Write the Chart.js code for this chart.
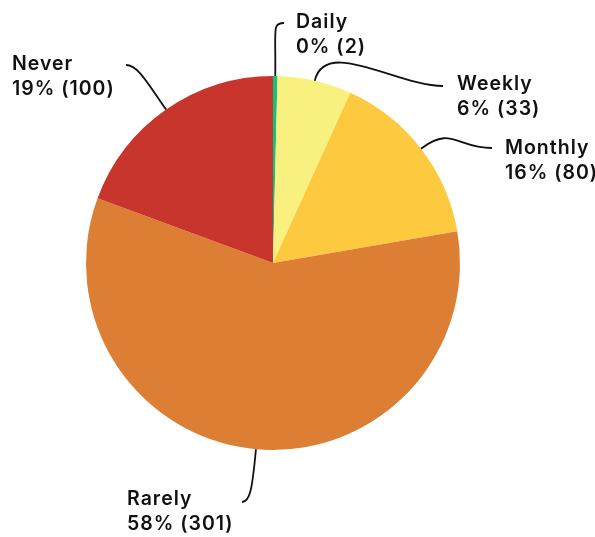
<!DOCTYPE html>
<html>
<head>
<meta charset="utf-8">
<script src="https://cdn.jsdelivr.net/npm/chart.js@4"></script>
<style>
    body { margin: 0; background: #fff; }
    #wrap { width: 595px; height: 537px; }
</style>
</head>
<body>
<div id="wrap"><canvas id="myChart" width="595" height="537"></canvas></div>
<script>
// data
const categories = ['Daily', 'Weekly', 'Monthly', 'Rarely', 'Never'];
const counts = [2, 33, 80, 301, 100];
const colors = ['#14c17a', '#f8f17f', '#fdc93f', '#dd7e35', '#c8352c'];

// label placement: text anchor, line end, control lengths
const labelLayout = [
    { x: 296, y: 22, align: 'left', endX: 284, endY: 23, out: 48, inn: 12 },
    { x: 457, y: 84, align: 'left', endX: 443, endY: 86, out: 45, inn: 45 },
    { x: 505, y: 148, align: 'left', endX: 492, endY: 148, out: 38, inn: 35 },
    { x: 127, y: 499, align: 'left', endX: 242, endY: 502, out: 40, inn: 8 },
    { x: 12, y: 64, align: 'left', endX: 126, endY: 65, out: 32, inn: 12 }
];

const total = counts.reduce((a, b) => a + b, 0);

const leaderLabels = {
    id: 'leaderLabels',
    afterDraw(chart) {
        const ctx = chart.ctx;
        const arcs = chart.getDatasetMeta(0).data;
        ctx.save();
        arcs.forEach((arc, i) => {
            const p = arc.getProps(['x', 'y', 'startAngle', 'endAngle', 'outerRadius'], true);
            const mid = (p.startAngle + p.endAngle) / 2;
            const dx = Math.cos(mid), dy = Math.sin(mid);
            const sx = p.x + dx * p.outerRadius;
            const sy = p.y + dy * p.outerRadius;
            const lay = labelLayout[i];
            const dir = lay.endX > sx ? -1 : 1;

            //line
            ctx.beginPath();
            ctx.moveTo(sx, sy);
            ctx.bezierCurveTo(sx + dx * lay.out, sy + dy * lay.out,
                lay.endX + dir * lay.inn, lay.endY, lay.endX, lay.endY);
            ctx.strokeStyle = '#111';
            ctx.lineWidth = 1.8;
            ctx.stroke();

            //text
            const pct = Math.round(counts[i] / total * 100);
            ctx.fillStyle = '#111';
            ctx.font = '600 19.5px Inter';
            ctx.letterSpacing = '1px';
            ctx.textAlign = lay.align;
            ctx.textBaseline = 'middle';
            ctx.fillText(categories[i], lay.x, lay.y);
            ctx.fillText(pct + '% (' + counts[i] + ')', lay.x, lay.y + 25);
        });
        ctx.restore();
    }
};

const ctx = document.getElementById('myChart').getContext('2d');
const chart = new Chart(ctx, {
    type: 'pie',
    data: {
        labels: categories,
        datasets: [{
            data: counts,
            backgroundColor: colors,
            borderWidth: 0
        }]
    },
    options: {
        responsive: false,
        animation: false,
        layout: { padding: { left: 86, top: 76, right: 135, bottom: 87 } },
        plugins: {
            legend: { display: false },
            tooltip: { enabled: false }
        }
    },
    plugins: [leaderLabels]
});
</script>
</body>
</html>
